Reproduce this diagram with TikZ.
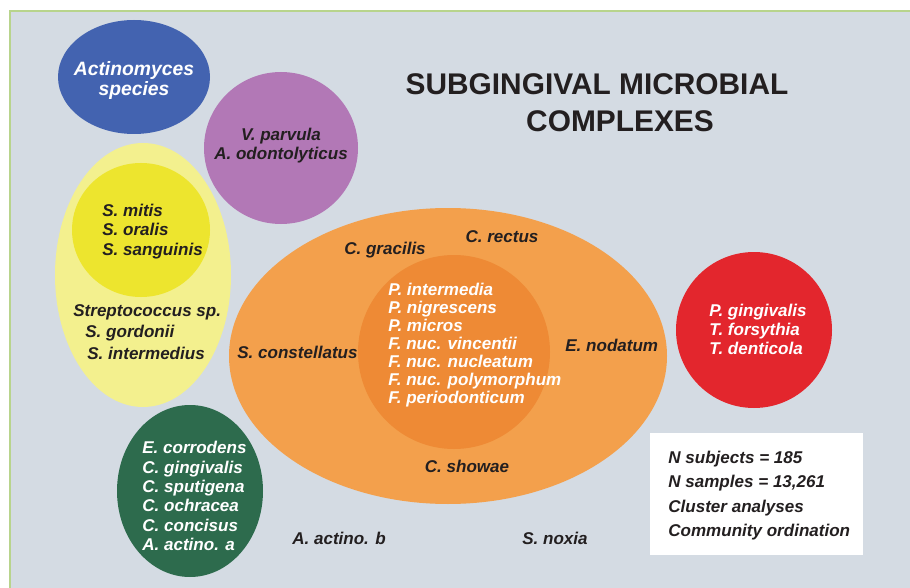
\documentclass[tikz,border=0pt]{standalone}
\usepackage{fontspec}
\setmainfont{Liberation Sans}
\begin{document}
\begin{tikzpicture}[x=0.02cm,y=-0.02cm,
  lab/.style={font=\fontsize{9.7}{10.8}\selectfont\bfseries\itshape, text=txtdark, inner sep=0pt},
  wlab/.style={lab, text=white},
  ttl/.style={font=\fontsize{17}{20}\selectfont\bfseries, text=txtdark, inner sep=0pt}]
\definecolor{bgpanel}{RGB}{212,219,227}
\definecolor{bordergreen}{RGB}{184,212,140}
\definecolor{cblue}{RGB}{67,99,176}
\definecolor{cpurple}{RGB}{178,120,182}
\definecolor{cyellowlt}{RGB}{243,240,142}
\definecolor{cyellow}{RGB}{237,229,46}
\definecolor{corange}{RGB}{243,160,76}
\definecolor{corangedk}{RGB}{238,138,53}
\definecolor{cred}{RGB}{227,38,45}
\definecolor{cgreen}{RGB}{45,107,77}
\definecolor{txtdark}{RGB}{35,31,32}
\useasboundingbox (0,0) rectangle (910,588);
\fill[white] (0,0) rectangle (910,588);
\fill[bgpanel] (10,11) rectangle (910,588);
\draw[bordergreen, line width=0.8pt] (10,588) -- (10,11) -- (910,11);
% shapes
\fill[cblue] (134,77) ellipse [x radius=76, y radius=57];
\fill[cpurple] (281,148) ellipse [x radius=77, y radius=76];
\fill[cyellowlt] (143,275) ellipse [x radius=88, y radius=132];
\fill[cyellow] (141,230) ellipse [x radius=69, y radius=67];
\fill[corange] (448,356) ellipse [x radius=219, y radius=148];
\fill[corangedk] (454,352) ellipse [x radius=96, y radius=97];
\fill[cred] (754,330) ellipse [x radius=78, y radius=78];
\fill[cgreen] (190,491) ellipse [x radius=73, y radius=86];
\fill[white] (650,433) rectangle (863,555);
% title
\node[ttl] (t1) at (597,84) {SUBGINGIVAL MICROBIAL};
\node[ttl] (t2) at (620,121) {COMPLEXES};
% texts
\node[wlab, align=center, font=\fontsize{11}{11.5}\selectfont\bfseries\itshape] (act) at (134,80.5) {Actinomyces\\species};
\node[lab, align=center] (vp) at (281,146) {V. parvula\\A. odontolyticus};
\node[lab, align=left, anchor=west, font=\fontsize{9.7}{11}\selectfont\bfseries\itshape] (sm) at (102,231.5) {S. mitis\\S. oralis\\S. sanguinis};
\node[lab, anchor=west] (ss) at (73,312) {Streptococcus sp.};
\node[lab, anchor=west] (sg) at (85,333) {S. gordonii};
\node[lab, anchor=west] (si) at (87,353) {S. intermedius};
\node[lab, anchor=west] (sc) at (237,352) {S. constellatus};
\node[lab] (cg) at (385,250) {C. gracilis};
\node[lab] (cr) at (502,237) {C. rectus};
\node[wlab, align=left, anchor=west, font=\fontsize{9.7}{10.3}\selectfont\bfseries\itshape] (red) at (388,345) {P. intermedia\\P. nigrescens\\P. micros\\F. nuc. vincentii\\F. nuc. nucleatum\\F. nuc. polymorphum\\F. periodonticum};
\node[lab, anchor=west] (en) at (565,345) {E. nodatum};
\node[lab] (cs) at (467,466) {C. showae};
\node[wlab, align=left, anchor=west] (rc) at (709,329) {P. gingivalis\\T. forsythia\\T. denticola};
\node[wlab, align=left, anchor=west, font=\fontsize{9.7}{11}\selectfont\bfseries\itshape] (gc) at (142,496) {E. corrodens\\C. gingivalis\\C. sputigena\\C. ochracea\\C. concisus\\A. actino. a};
\node[lab] (aab) at (339,538) {A. actino. b};
\node[lab] (sn) at (555,538) {S. noxia};
\node[lab, align=left, anchor=west, font=\fontsize{9.7}{13.8}\selectfont\bfseries\itshape] (box) at (668,495.5) {N subjects = 185\\N samples = 13,261\\Cluster analyses\\Community ordination};
\end{tikzpicture}
\end{document}
